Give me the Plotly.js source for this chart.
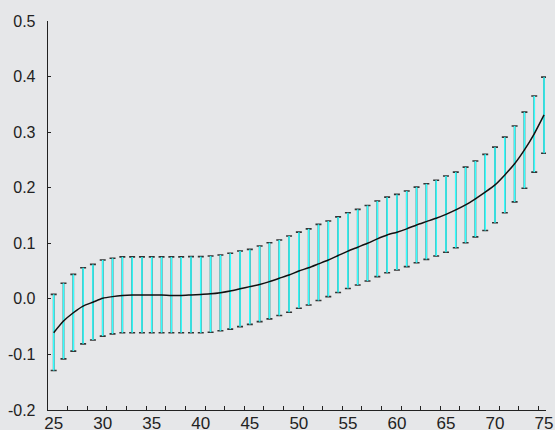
<!DOCTYPE html>
<html>
<head>
<meta charset="utf-8">
<script src="https://cdn.plot.ly/plotly-3.0.1.min.js"></script>
<style>html,body{margin:0;padding:0;background:#e6e7e9;}#chart{width:555px;height:430px;}</style>
</head>
<body>
<div id="chart"></div>
<script>
// Age values (x), estimated effect (line) and interval bounds
const ages = [25,26,27,28,29,30,31,32,33,34,35,36,37,38,39,40,41,42,43,44,45,46,47,48,49,50,
  51,52,53,54,55,56,57,58,59,60,61,62,63,64,65,66,67,68,69,70,71,72,73,74,75];
const effect = [-0.061,-0.040,-0.025,-0.013,-0.006,0.001,0.004,0.006,0.007,0.007,0.007,0.007,0.006,0.006,0.007,0.008,
  0.009,0.011,0.014,0.018,0.022,0.026,0.031,0.037,0.043,0.050,0.056,0.063,0.070,0.078,0.086,0.093,0.100,0.108,
  0.115,0.120,0.126,0.133,0.139,0.145,0.152,0.160,0.169,0.180,0.192,0.205,0.223,0.243,0.268,0.297,0.331];
const upper = [0.008,0.028,0.044,0.056,0.062,0.070,0.073,0.0755,0.0755,0.0755,0.0755,0.0755,0.0755,0.0755,0.076,0.076,
  0.077,0.079,0.082,0.086,0.089,0.095,0.101,0.106,0.113,0.120,0.126,0.134,0.140,0.1475,0.155,0.161,0.168,0.176,
  0.183,0.188,0.194,0.201,0.207,0.2135,0.221,0.228,0.237,0.248,0.260,0.273,0.291,0.311,0.336,0.365,0.399];
const lower = [-0.129,-0.108,-0.094,-0.081,-0.074,-0.067,-0.063,-0.061,-0.061,-0.061,-0.061,-0.061,-0.061,-0.061,-0.061,-0.061,
  -0.060,-0.0575,-0.0545,-0.050,-0.046,-0.041,-0.036,-0.030,-0.024,-0.017,-0.011,-0.003,0.004,0.0115,0.0187,0.025,0.032,0.040,
  0.047,0.052,0.058,0.065,0.071,0.077,0.084,0.092,0.101,0.1115,0.123,0.137,0.155,0.1745,0.199,0.228,0.262];
const xTickVals = [25,30,35,40,45,50,55,60,65,70,75];
const xTickText = ['25','30','35','40','45','50','55','60','65','70','75'];
const xMinorTicks = [26.43,28.43,30.43,32.43,34.43,36.43,38.43,40.43,42.43,44.43,46.43,48.43,50.43,52.43,
  54.43,56.43,58.43,60.43,62.43,64.43,66.43,68.43,70.43,72.43,74.43];
const yTickVals = [0.5,0.4,0.3,0.2,0.1,0.0,-0.1,-0.2];
const yTickText = ['0.5','0.4','0.3','0.2','0.1','0.0','-0.1','-0.2'];
const titleText = 'Marginal effect of age';

const errPlus = upper.map((u,i)=>u-effect[i]);
const errMinus = lower.map((l,i)=>effect[i]-l);

const font = 'Liberation Sans, Arial, sans-serif';
const bg = '#e6e7e9';
const xr = [24.42, 75.2];

const traces = [
  { x: ages, y: effect, type: 'scatter', mode: 'markers', marker: {size: 1, opacity: 0},
    error_y: {type: 'data', symmetric: false, array: errPlus, arrayminus: errMinus,
      color: '#333', thickness: 1.6, width: 3}, hoverinfo: 'skip', showlegend: false },
  { x: ages, y: effect, type: 'scatter', mode: 'markers', marker: {size: 1, opacity: 0},
    error_y: {type: 'data', symmetric: false, array: errPlus, arrayminus: errMinus,
      color: '#33ffff', thickness: 1.6, width: 0}, hoverinfo: 'skip', showlegend: false },
  { x: ages, y: effect, type: 'scatter', mode: 'lines',
    line: {color: '#111', width: 1.5, shape: 'spline', smoothing: 0.6}, showlegend: false },
  { x: [xr[0]], y: [-1], xaxis: 'x2', type: 'scatter', mode: 'markers', marker: {opacity: 0}, showlegend: false, hoverinfo: 'skip' }
];

const layout = {
  width: 555, height: 430,
  paper_bgcolor: bg, plot_bgcolor: bg,
  margin: {l: 48, r: 9, t: 21, b: 20, pad: 0},
  font: {family: font, color: '#222', size: 16},
  annotations: [{text: titleText, font: {family: font, size: 24, color: '#222'}, showarrow: false,
    xref: 'paper', x: -0.066, xanchor: 'left', yref: 'paper', y: 1, yanchor: 'bottom', yshift: 24, borderpad: 0}],
  xaxis: {range: xr, tickmode: 'array', tickvals: xTickVals, ticktext: xTickText, ticks: '', ticklen: 0,
    showgrid: false, zeroline: false, showline: true, linecolor: '#222', linewidth: 1.3,
    tickfont: {size: 17, family: font, color: '#222'}, ticklabelstandoff: -3},
  xaxis2: {range: xr, overlaying: 'x', anchor: 'y', side: 'bottom', tickmode: 'array', tickvals: xMinorTicks,
    ticks: 'inside', ticklen: 4, tickwidth: 1, tickcolor: '#222', showticklabels: false,
    showgrid: false, zeroline: false, showline: false},
  yaxis: {range: [-0.2, 0.5], tickmode: 'array', tickvals: yTickVals, ticktext: yTickText,
    ticks: 'inside', ticklen: 3, tickwidth: 1, tickcolor: '#222',
    showgrid: false, zeroline: false, showline: true, linecolor: '#222', linewidth: 1.3,
    tickfont: {size: 16, family: font, color: '#222'}, ticklabelstandoff: 8}
};

Plotly.newPlot('chart', traces, layout, {displayModeBar: false, staticPlot: true});
</script>
</body>
</html>
